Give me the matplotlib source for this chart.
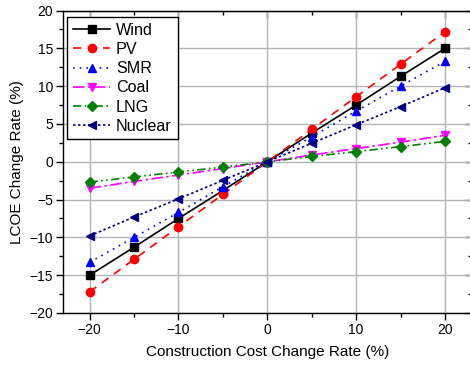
import matplotlib
matplotlib.use('Agg')
import matplotlib.pyplot as plt
from matplotlib.ticker import MultipleLocator

plt.rcParams['font.family'] = ['Liberation Sans', 'DejaVu Sans']

# ── data ──────────────────────────────────────────────────────────────
cost_change = [-20, -15, -10, -5, 0, 5, 10, 15, 20]

wind    = [-15.0, -11.3, -7.5, -3.8, 0, 3.8, 7.5, 11.3, 15.0]
pv      = [-17.2, -12.9, -8.6, -4.3, 0, 4.3, 8.6, 12.9, 17.2]
smr     = [-13.3, -10.0, -6.7, -3.3, 0, 3.3, 6.7, 10.0, 13.3]
coal    = [-3.5, -2.6, -1.75, -0.9, 0, 0.9, 1.75, 2.6, 3.5]
lng     = [-2.7, -2.0, -1.35, -0.7, 0, 0.7, 1.35, 2.0, 2.7]
nuclear = [-9.8, -7.3, -4.9, -2.45, 0, 2.45, 4.9, 7.3, 9.8]

series = [
    ('Wind',    wind,    'black',   '-',                     's'),
    ('PV',      pv,      'red',     (0, (5, 4)),             'o'),
    ('SMR',     smr,     'blue',    (0, (1, 3)),             '^'),
    ('Coal',    coal,    'magenta', (0, (7, 2, 1.5, 2)),     'v'),
    ('LNG',     lng,     'green',   (0, (5, 2, 1, 2, 1, 2)), 'D'),
    ('Nuclear', nuclear, 'navy',    (0, (1.5, 1.5)),         '<'),
]

# ── plot ──────────────────────────────────────────────────────────────
fig = plt.figure(figsize=(4.70, 3.65), dpi=100)
ax = fig.add_axes([0.134, 0.1425, 0.8696, 0.8285])

for name, vals, col, ls, mk in series:
    ms = 5 if mk == 'D' else 6
    ax.plot(cost_change, vals, color=col, linestyle=ls, linewidth=1.2,
            marker=mk, markersize=ms, markerfacecolor=col,
            markeredgecolor=col, label=name, zorder=3)

ax.set_xlim(-23, 23)
ax.set_ylim(-20, 20)
ax.xaxis.set_major_locator(MultipleLocator(10))
ax.xaxis.set_minor_locator(MultipleLocator(5))
ax.yaxis.set_major_locator(MultipleLocator(5))
ax.yaxis.set_minor_locator(MultipleLocator(2.5))

ax.grid(True, which='major', color='#b4b4b4', linewidth=1.0, zorder=0)

ax.tick_params(which='major', direction='out', length=5, width=1,
               labelsize=10, pad=2)
ax.tick_params(which='minor', direction='out', length=3, width=1)

# mirrored ticks on top/right, pointing inward
for side in ('top', 'right'):
    sec = ax.secondary_xaxis('top') if side == 'top' else ax.secondary_yaxis('right')
    axis = sec.xaxis if side == 'top' else sec.yaxis
    axis.set_major_locator(MultipleLocator(10 if side == 'top' else 5))
    axis.set_minor_locator(MultipleLocator(5 if side == 'top' else 2.5))
    sec.tick_params(which='major', direction='in', length=5, width=1,
                    labeltop=False, labelright=False)
    sec.tick_params(which='minor', direction='in', length=3, width=1)

for sp in ax.spines.values():
    sp.set_linewidth(1.0)

ax.set_xlabel('Construction Cost Change Rate (%)', fontsize=11, labelpad=6)
ax.set_ylabel('LCOE Change Rate (%)', fontsize=11, labelpad=4)

leg = ax.legend(loc='upper left', bbox_to_anchor=(0.0098, 0.978),
                fontsize=11.6, handlelength=2.35,
                labelspacing=0.26, handletextpad=0.35, borderpad=0.35,
                borderaxespad=0, fancybox=False, framealpha=1,
                edgecolor='black')
leg.get_frame().set_linewidth(1.0)

fig.savefig('out.png', dpi=100)
